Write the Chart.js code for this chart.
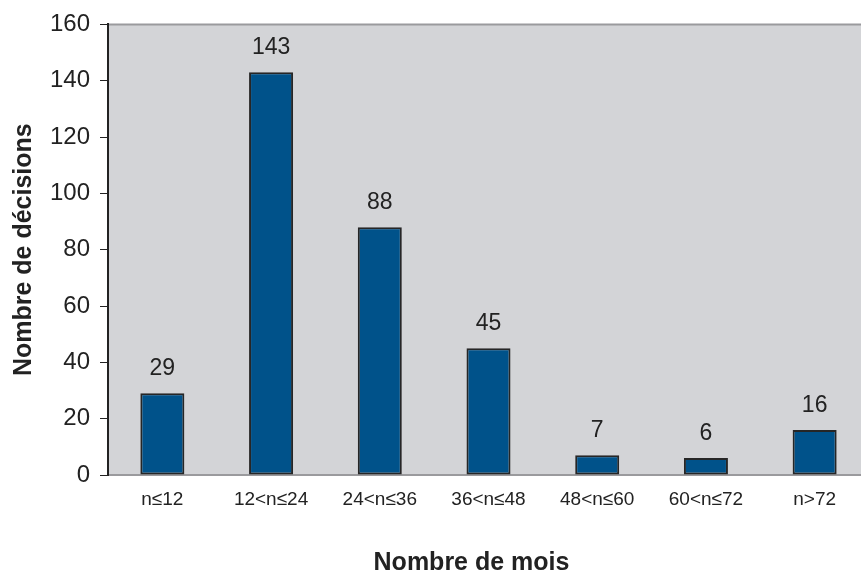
<!DOCTYPE html>
<html lang="fr">
<head>
<meta charset="UTF-8">
<title>Nombre de décisions</title>
<script src="https://cdn.jsdelivr.net/npm/chart.js"></script>
<style>
    html, body { margin: 0; padding: 0; background: #ffffff; overflow: hidden; }
    /* plot area runs a little past the right edge in the original */
    .wrap { width: 869px; height: 574px; position: relative; }
</style>
</head>
<body>
<div class="wrap"><canvas id="chart"></canvas></div>
<script>
// Data
const categories = ['n≤12', '12<n≤24', '24<n≤36', '36<n≤48', '48<n≤60', '60<n≤72', 'n>72'];
const decisions = [29, 143, 88, 45, 7, 6, 16];
const yTicks = [0, 20, 40, 60, 80, 100, 120, 140, 160];
const xTitle = 'Nombre de mois';

const FONT = "'Liberation Sans', Arial, Helvetica, sans-serif";

// Grey plot background + top border line
const plotBg = {
    id: 'plotBg',
    beforeDraw(chart) {
        const { ctx, chartArea: a } = chart;
        ctx.save();
        ctx.fillStyle = '#d3d4d7';
        ctx.fillRect(a.left, a.top, a.right - a.left, a.bottom - a.top);
        ctx.strokeStyle = '#9a9a9d';
        ctx.lineWidth = 2;
        ctx.beginPath();
        ctx.moveTo(a.left, a.top);
        ctx.lineTo(a.right, a.top);
        ctx.stroke();
        ctx.restore();
    }
};

// Value labels above each bar, plus the x axis title (sits left of centre in the original)
const valueLabels = {
    id: 'valueLabels',
    afterDatasetsDraw(chart) {
        const { ctx, chartArea: a } = chart;
        const meta = chart.getDatasetMeta(0);
        ctx.save();
        ctx.font = '23px ' + FONT;
        ctx.fillStyle = '#222222';
        ctx.textAlign = 'center';
        ctx.textBaseline = 'alphabetic';
        meta.data.forEach((bar, i) => {
            ctx.fillText(String(decisions[i]), bar.x, bar.y - 18);
        });
        ctx.font = 'bold 25px ' + FONT;
        ctx.textBaseline = 'middle';
        ctx.fillText(xTitle, (a.left + 835) / 2, a.bottom + 88);
        ctx.restore();
    }
};

new Chart(document.getElementById('chart').getContext('2d'), {
    type: 'bar',
    data: {
        labels: categories,
        datasets: [{
            data: decisions,
            backgroundColor: '#00528a',
            borderColor: '#262626',
            borderWidth: 2,
            borderSkipped: false,
            barPercentage: 0.405,
            categoryPercentage: 1
        }]
    },
    options: {
        responsive: true,
        maintainAspectRatio: false,
        animation: false,
        layout: { padding: { top: 24, right: 0, left: 0, bottom: 0 } },
        plugins: {
            legend: { display: false },
            tooltip: { enabled: false }
        },
        scales: {
            x: {
                grid: { display: false, drawTicks: false },
                border: { display: true, color: '#9a9a9d', width: 2 },
                ticks: { color: '#222222', font: { family: FONT, size: 19 }, padding: 13, maxRotation: 0, autoSkip: false },
                afterFit(scale) { scale.height = 99; }
            },
            y: {
                min: 0,
                max: 160,
                afterBuildTicks(scale) { scale.ticks = yTicks.map(v => ({ value: v })); },
                grid: { drawOnChartArea: false, drawTicks: true, tickLength: 8, color: '#222222', lineWidth: 1 },
                border: { display: true, color: '#222222', width: 2 },
                ticks: { color: '#222222', font: { family: FONT, size: 24 }, padding: 10 },
                title: { display: true, text: 'Nombre de décisions', color: '#222222', font: { family: FONT, size: 25, weight: 'bold' }, padding: { top: 9, bottom: 0 } },
                afterFit(scale) { scale.width = 108; }
            }
        }
    },
    plugins: [plotBg, valueLabels]
});
</script>
</body>
</html>
